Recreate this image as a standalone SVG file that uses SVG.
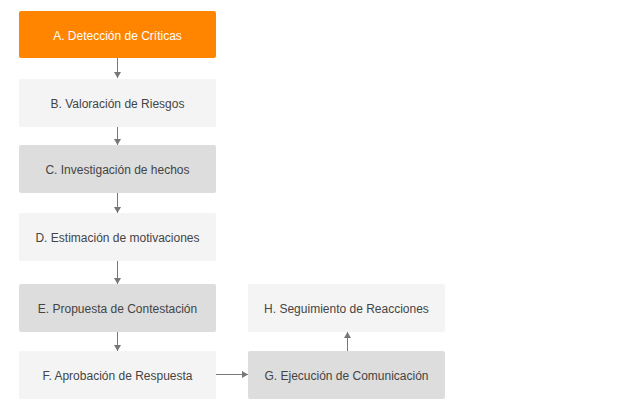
<svg xmlns="http://www.w3.org/2000/svg" width="620" height="418" viewBox="0 0 620 418">
<defs>
<style>
.n rect{stroke:none}
.o{fill:#FF8400}
.l{fill:#F4F4F4}
.d{fill:#DDDDDD}
text{font-family:"Liberation Sans",Arial,sans-serif;font-size:12px;text-anchor:middle;fill:#444}
text.w{fill:#fff}
.c line{stroke:#777;stroke-width:1}
</style>
<marker id="ah" markerWidth="8" markerHeight="8" refX="6" refY="4" orient="auto" markerUnits="userSpaceOnUse">
<path d="M0,0.5 L6,4 L0,7.5 z" fill="#777"/>
</marker>
</defs>
<rect width="620" height="418" fill="#fff"/>
<g class="c">
<line x1="117.5" y1="58" x2="117.5" y2="78" marker-end="url(#ah)"/>
<line x1="117.5" y1="127" x2="117.5" y2="145" marker-end="url(#ah)"/>
<line x1="117.5" y1="193" x2="117.5" y2="213" marker-end="url(#ah)"/>
<line x1="117.5" y1="261" x2="117.5" y2="284" marker-end="url(#ah)"/>
<line x1="117.5" y1="332" x2="117.5" y2="351" marker-end="url(#ah)"/>
<line x1="216" y1="374.5" x2="248" y2="374.5" marker-end="url(#ah)"/>
<line x1="347.5" y1="351" x2="347.5" y2="332" marker-end="url(#ah)"/>
</g>
<g id="A" class="n"><rect class="o" x="19" y="11" width="197" height="47" rx="2"/><text class="w" x="117.5" y="40">A. Detección de Críticas</text></g>
<g id="B" class="n"><rect class="l" x="19" y="79" width="197" height="48" rx="2"/><text x="117.5" y="108">B. Valoración de Riesgos</text></g>
<g id="C" class="n"><rect class="d" x="19" y="145" width="197" height="48" rx="2"/><text x="117.5" y="174">C. Investigación de hechos</text></g>
<g id="D" class="n"><rect class="l" x="19" y="213" width="197" height="48" rx="2"/><text x="117.5" y="242">D. Estimación de motivaciones</text></g>
<g id="E" class="n"><rect class="d" x="19" y="284" width="197" height="48" rx="2"/><text x="117.5" y="313">E. Propuesta de Contestación</text></g>
<g id="F" class="n"><rect class="l" x="19" y="351" width="197" height="48" rx="2"/><text x="117.5" y="380">F. Aprobación de Respuesta</text></g>
<g id="G" class="n"><rect class="d" x="248" y="351" width="197" height="48" rx="2"/><text x="346.5" y="380">G. Ejecución de Comunicación</text></g>
<g id="H" class="n"><rect class="l" x="248" y="284" width="197" height="48" rx="2"/><text x="346.5" y="313">H. Seguimiento de Reacciones</text></g>
</svg>
